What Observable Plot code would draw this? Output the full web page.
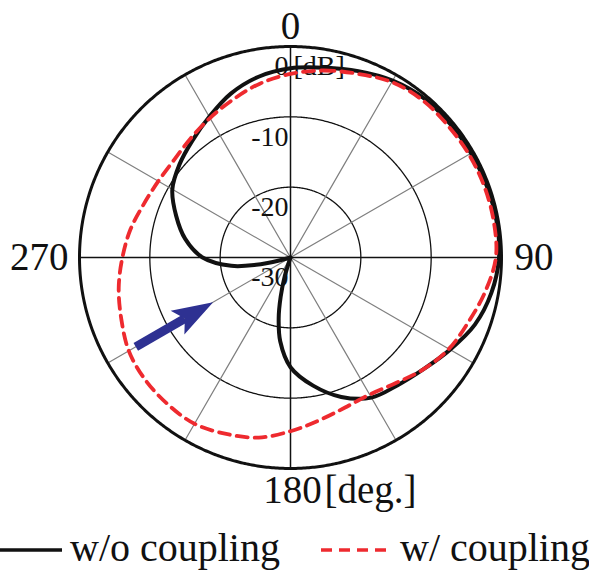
<!DOCTYPE html>
<html>
<head>
<meta charset="utf-8">
<script src="https://cdn.jsdelivr.net/npm/d3@7"></script>
<script src="https://cdn.jsdelivr.net/npm/@observablehq/plot@0.6"></script>
<style>
  html, body { margin: 0; padding: 0; background: #fff; }
  body { width: 589px; height: 572px; overflow: hidden; font-family: "Liberation Serif", "Times New Roman", serif; }
  svg text { font-family: "Liberation Serif", "Times New Roman", serif !important; }
  #legend { display: block; }
</style>
</head>
<body>
<div id="chart"></div>
<div id="legend"></div>
<script>
// ---- data (angle in degrees, clockwise from top; level in dB) ----
const blackAngles = [0,10,20,30,40,50,60,70,80,90,100,110,120,130,140,150,160,170,180,187,191,194,197,200,252,255,258,262,270,280,290,300,310,320,330,340,350];
const blackDb     = [-3.1,-2.6,-1.8,-0.95,-0.45,-0.4,-0.35,-0.3,-0.25,-0.35,-1.0,-2.1,-3.8,-5.3,-6.3,-7.0,-8.9,-11.5,-14.4,-18.0,-21.2,-24.2,-27.2,-30,-30,-28.5,-25,-21.5,-17.5,-14.8,-12.7,-10.6,-9.4,-8.3,-6.9,-5.2,-3.9];

const redAngles = [0,10,20,30,40,50,60,70,80,90,100,110,120,130,140,150,160,170,180,190,200,210,220,230,240,250,260,270,280,290,300,310,320,330,340,350];
const redDb     = [-3.9,-3.0,-2.2,-1.2,-0.8,-0.8,-0.7,-0.65,-0.65,-0.8,-1.9,-3.1,-4.0,-5.3,-6.7,-7.5,-7.3,-6.5,-5.3,-4.0,-3.3,-2.7,-2.8,-3.0,-3.45,-4.4,-5.2,-6.1,-6.9,-7.8,-8.3,-8.4,-7.9,-7.1,-6.1,-4.9];

const ringLevels  = [0, -10, -20, -30];
const spokeAngles = [0,30,60,90,120,150,180,210,240,270,300,330];
const angleLabels = [0, 90, 180, 270];
const angleUnit = "[deg.]";
const levelUnit = "[dB]";

const arrowAngle = 240, arrowFromDb = -4.6, arrowToDb = -17.3;

const seriesNames = ["w/o coupling", "w/ coupling"];

// ---- helpers: polar -> lon/lat for an azimuthal projection centred on the pole ----
const floorDb = -30;
const lon = a => 180 - a;
const lat = db => 90 - (Math.max(db, floorDb) - floorDb);
const circle = r => d3.geoCircle().center([0, 90]).radius(r).precision(0.5)();

const blackData = blackAngles.map((a, i) => ({a, db: blackDb[i]}));
const redData = redAngles.map((a, i) => ({a, db: redDb[i]}));

// arrow head polygon built from arrow spec
const headLen = 5.85, headHalf = 1.95;
function headFeature() {
  const dTip = arrowToDb - floorDb;
  const dBase = dTip + headLen;
  const off = Math.atan(headHalf / dBase) * 180 / Math.PI;
  const dC = Math.hypot(dBase, headHalf);
  let ring = [
    [lon(arrowAngle), 90 - dTip],
    [lon(arrowAngle + off), 90 - dC],
    [lon(arrowAngle), 90 - (dBase - 1.2)],
    [lon(arrowAngle - off), 90 - dC],
    [lon(arrowAngle), 90 - dTip]
  ];
  let f = {type: "Polygon", coordinates: [ring]};
  if (d3.geoArea(f) > 2 * Math.PI) f = {type: "Polygon", coordinates: [ring.slice().reverse()]};
  return f;
}

const labelFont = 39, levelFont = 28;
const ink = "#111";
const pad = 8;

const chart = Plot.plot({
  width: 589,
  height: 520,
  marginLeft: 79 - pad,
  marginRight: 88 - pad,
  marginTop: 46 - pad,
  marginBottom: 52 - pad,
  projection: {
    type: "azimuthal-equidistant",
    rotate: [0, -90],
    domain: circle(30),
    inset: pad
  },
  style: {fontFamily: "'Liberation Serif', 'Times New Roman', serif", background: "white", overflow: "visible"},
  marks: [
    // inner rings
    Plot.geo(ringLevels.filter(v => v > floorDb && v < 0), {geometry: v => circle(v - floorDb), stroke: ink, strokeWidth: 1.3}),
    // gray spokes
    Plot.link(spokeAngles.filter(a => a % 90 !== 0), {x1: a => lon(a), y1: () => 90, x2: a => lon(a), y2: () => lat(0), stroke: "#7f7f7f", strokeWidth: 1.2}),
    // main axes
    Plot.link(spokeAngles.filter(a => a % 90 === 0), {x1: a => lon(a), y1: () => 90, x2: a => lon(a), y2: () => lat(0), stroke: ink, strokeWidth: 1.5}),
    // outer ring
    Plot.geo(ringLevels.filter(v => v === 0), {geometry: v => circle(v - floorDb), stroke: ink, strokeWidth: 3}),
    // radial labels
    Plot.text(ringLevels, {x: () => lon(0), y: v => lat(v), text: v => String(v), textAnchor: "end", dx: -2, dy: 20, fontSize: levelFont, fill: ink}),
    Plot.text([levelUnit], {x: () => lon(0), y: () => lat(0), text: d => d, textAnchor: "start", dx: 3, dy: 20, fontSize: levelFont, fill: ink}),
    // angle labels
    Plot.text(angleLabels.filter(a => a === 0), {x: a => lon(a), y: () => lat(0), text: a => String(a), dy: -20, fontSize: labelFont, fill: ink}),
    Plot.text(angleLabels.filter(a => a === 90), {x: a => lon(a), y: () => lat(0), text: a => String(a), textAnchor: "start", dx: 13, fontSize: labelFont, fill: ink}),
    Plot.text(angleLabels.filter(a => a === 270), {x: a => lon(a), y: () => lat(0), text: a => String(a), textAnchor: "end", dx: -11, fontSize: labelFont, fill: ink}),
    Plot.text(angleLabels.filter(a => a === 180), {x: a => lon(a), y: () => lat(0), text: a => String(a), dx: 2, dy: 22, fontSize: labelFont, fill: ink}),
    Plot.text([angleUnit], {x: () => lon(180), y: () => lat(0), text: d => d, textAnchor: "start", dx: 34, dy: 22, fontSize: labelFont, fill: ink}),
    // w/o coupling
    Plot.line(blackData, {x: d => lon(d.a), y: d => lat(d.db), curve: "catmull-rom-closed", stroke: ink, strokeWidth: 4, strokeLinejoin: "round"}),
    // w/ coupling
    Plot.line(redData, {x: d => lon(d.a), y: d => lat(d.db), curve: "catmull-rom-closed", stroke: "#ee2a2f", strokeWidth: 3.8, strokeDasharray: "11,7"}),
    // arrow
    Plot.link([arrowAngle], {x1: a => lon(a), y1: () => lat(arrowFromDb), x2: a => lon(a), y2: () => lat(arrowToDb + headLen * 0.8), stroke: "#2e3192", strokeWidth: 9}),
    Plot.geo([arrowAngle], {geometry: () => headFeature(), fill: "#2e3192", stroke: "none"})
  ]
});
document.getElementById("chart").appendChild(chart);

// legend below the plot
const lg = d3.select("#legend").append("svg").attr("width", 589).attr("height", 52)
  .style("display", "block");
lg.append("line").attr("x1", 0).attr("x2", 62).attr("y1", 30).attr("y2", 30)
  .attr("stroke", ink).attr("stroke-width", 3.5);
lg.append("text").attr("x", 70).attr("y", 41).attr("font-size", 40)
  .attr("font-family", "'Liberation Serif', serif").attr("fill", ink).text(seriesNames[0]);
lg.append("line").attr("x1", 321).attr("x2", 392).attr("y1", 30).attr("y2", 30)
  .attr("stroke", "#ee2a2f").attr("stroke-width", 3.5).attr("stroke-dasharray", "11,7");
lg.append("text").attr("x", 400).attr("y", 41).attr("font-size", 40)
  .attr("font-family", "'Liberation Serif', serif").attr("fill", ink).text(seriesNames[1]);
</script>
</body>
</html>
